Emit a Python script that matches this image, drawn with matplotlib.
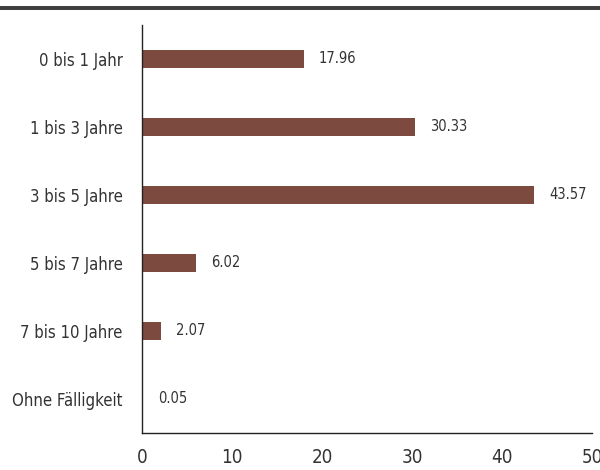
import matplotlib
matplotlib.use("Agg")
import matplotlib.pyplot as plt
from matplotlib.patches import Rectangle
from matplotlib import font_manager

categories = ['0 bis 1 Jahr', '1 bis 3 Jahre', '3 bis 5 Jahre', '5 bis 7 Jahre',
              '7 bis 10 Jahre', 'Ohne Fälligkeit']
values = [17.96, 30.33, 43.57, 6.02, 2.07, 0.05]
xticks = [0, 10, 20, 30, 40, 50]

# look for a narrow face, the reference uses a condensed font
narrow = [f.fname for f in font_manager.fontManager.ttflist
          if ('Condensed' in f.fname or 'Narrow' in f.fname or 'Cond' in f.name)
          and 'Bold' not in f.fname and 'Oblique' not in f.fname and 'Italic' not in f.fname]
narrow.sort(key=lambda s: ('Light' in s, 'Semi' in s, len(s)))
fig = plt.figure(figsize=(6, 4.7), dpi=100)
if narrow:
    fp = font_manager.FontProperties(fname=narrow[0])
    scale = 1.0
else:
    fp = font_manager.FontProperties(family='DejaVu Sans')
    scale = 0.8

ax = fig.add_axes([142 / 600, 37 / 470, 450 / 600, 408 / 470])

pos = list(range(len(categories)))
ax.barh(pos, values, height=0.26, color='#7d4a40')
for p, v in zip(pos, values):
    ax.text(v + 1.7, p, f'{v:.2f}', va='center', ha='left', fontproperties=fp,
            fontsize=10.5 * scale, color='#333333')

ax.set_ylim(5.5, -0.5)
ax.set_xlim(0, 50)
ax.set_yticks(pos)
ax.set_yticklabels(categories, fontproperties=fp, fontsize=12 * scale, color='#333333')
ax.set_xticks(xticks)
ax.set_xticklabels([str(t) for t in xticks], fontproperties=fp, fontsize=13.5 * scale,
                   color='#333333')
ax.tick_params(axis='both', length=0)
ax.tick_params(axis='x', pad=11)
ax.tick_params(axis='y', pad=14)
for s in ['top', 'right']:
    ax.spines[s].set_visible(False)
for s in ['left', 'bottom']:
    ax.spines[s].set_color('#222222')
    ax.spines[s].set_linewidth(1.0)

fig.add_artist(Rectangle((0, 1 - 10 / 470), 1, 4 / 470, transform=fig.transFigure,
                         color='#404040', lw=0))

fig.savefig('out.png', dpi=100)
